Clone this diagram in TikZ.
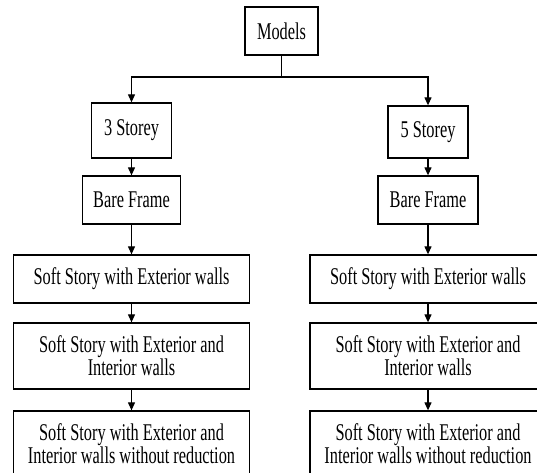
\documentclass[tikz,border=0pt]{standalone}
\usepackage{fontspec}
\setmainfont{Liberation Serif}[FakeStretch=0.68]
\usetikzlibrary{arrows.meta}
\usetikzlibrary{positioning}

\begin{document}
\begin{tikzpicture}[x=1pt,y=-1pt]
	\def\colA{131.5}
	\def\colB{428}

	\tikzset{line/.style={draw,line width=1.1pt}}
	\tikzset{arrow/.style={line,-{Triangle[length=8pt,width=7pt]}}}
	\tikzset{box/.style={draw,line width=1.3pt,inner sep=0pt,align=center,font={\fontsize{24}{23}\selectfont}}}
	\tikzset{wide/.style={box,minimum width=236pt}}

	\clip (0,0) rectangle (537,472);

	\node[box,minimum width=73pt,minimum height=48pt] (models) at (281.5,31) {Models};

	\node[box,minimum width=80pt,minimum height=55pt] (s3) at (\colA,130.5) {3 Storey};
	\node[box,minimum width=80pt,minimum height=52pt] (s5) at (\colB,132) {5 Storey};

	\node[box,minimum width=98pt,minimum height=48pt] (bf3) at (\colA,200) {Bare Frame};
	\node[box,minimum width=100pt,minimum height=48pt] (bf5) at (\colB,200) {Bare Frame};

	% soft story boxes
	\node[wide,minimum height=48pt] (ext3) at (\colA,279) {Soft Story with Exterior walls};
	\node[wide,minimum height=48pt] (ext5) at (\colB,279) {Soft Story with Exterior walls};

	\node[wide,minimum height=66pt] (int3) at (\colA,356) {Soft Story with Exterior and\\Interior walls};
	\node[wide,minimum height=66pt] (int5) at (\colB,356) {Soft Story with Exterior and\\Interior walls};

	\node[wide,minimum height=66pt] (red3) at (\colA,444) {Soft Story with Exterior and\\Interior walls without reduction};
	\node[wide,minimum height=66pt] (red5) at (\colB,444) {Soft Story with Exterior and\\Interior walls without reduction};

	\coordinate (fork) at (281.5,77);
	\path[line] (models) -- (fork);
	\path[arrow] (fork) -| (s3);
	\path[arrow] (fork) -| (s5);

	\path[arrow] (s3) -- (bf3);
	\path[arrow] (bf3) -- (ext3);
	\path[arrow] (ext3) -- (int3);
	\path[arrow] (int3) -- (red3);

	\path[arrow] (s5) -- (bf5);
	\path[arrow] (bf5) -- (ext5);
	\path[arrow] (ext5) -- (int5);
	\path[arrow] (int5) -- (red5);
\end{tikzpicture}
\end{document}
